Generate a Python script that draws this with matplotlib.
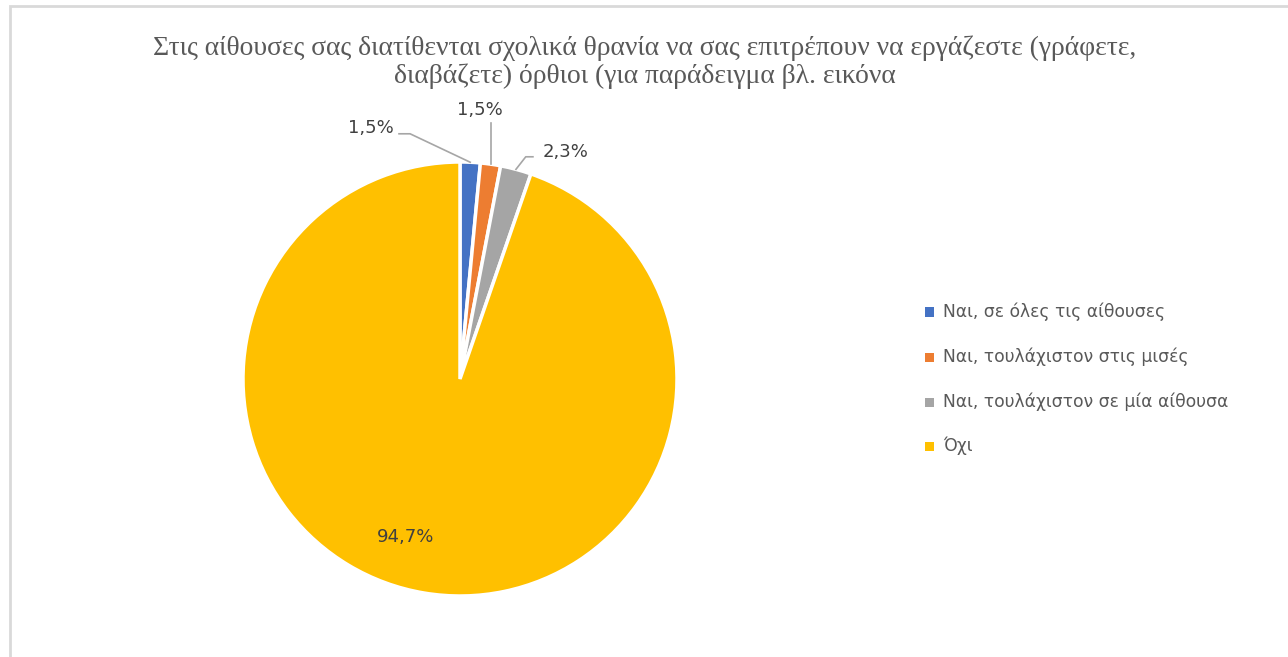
import numpy as np
import matplotlib
matplotlib.use("Agg")
import matplotlib.pyplot as plt
from matplotlib.patches import Rectangle

title = ("Στις αίθουσες σας διατίθενται σχολικά θρανία να σας επιτρέπουν να εργάζεστε (γράφετε,\n"
         "διαβάζετε) όρθιοι (για παράδειγμα βλ. εικόνα")
categories = ["Ναι, σε όλες τις αίθουσες",
              "Ναι, τουλάχιστον στις μισές",
              "Ναι, τουλάχιστον σε μία αίθουσα",
              "Όχι"]
values = [1.5, 1.5, 2.3, 94.7]
labels = ["1,5%", "1,5%", "2,3%", "94,7%"]
colors = ["#4472C4", "#ED7D31", "#A5A5A5", "#FFC000"]

W, H = 1288, 657
fig = plt.figure(figsize=(W / 100, H / 100), dpi=100)

# chart frame (light grey border, runs off the right/bottom edge)
fig.patches.append(Rectangle((10 / W, -0.05), 1.2, (H - 6) / H + 0.05,
                             transform=fig.transFigure, fill=False,
                             edgecolor="#D9D9D9", linewidth=2))

cx, cy, r = 460, 379, 217
ax = fig.add_axes([(cx - r) / W, (H - cy - r) / H, 2 * r / W, 2 * r / H])

wedges, _ = ax.pie(values, colors=colors, startangle=90, counterclock=False,
                   radius=1.0, wedgeprops=dict(edgecolor="white", linewidth=2.5))
ax.set_xlim(-1, 1)
ax.set_ylim(-1, 1)
ax.set_aspect("equal")
ax.axis("off")

# label placement (data units of the pie axes)
label_pos = [(-0.412, 1.157), (0.092, 1.24), (0.488, 1.046), (-0.253, -0.728)]
leader_mid = [[(-0.230, 1.130), (-0.281, 1.130)],
              [(0.143, 1.181)],
              [(0.303, 1.024), (0.336, 1.024)],
              None]
for w, lab, pos, mid in zip(wedges, labels, label_pos, leader_mid):
    ang = np.deg2rad((w.theta1 + w.theta2) / 2)
    if mid is not None:
        sx, sy = 1.0 * np.cos(ang), 1.0 * np.sin(ang)
        if len(mid) == 1:
            sx = mid[0][0]
            sy = np.sqrt(1 - sx ** 2)
        pts = [(sx, sy)] + mid
        ax.plot([p[0] for p in pts], [p[1] for p in pts], color="#A6A6A6",
                linewidth=1.2, clip_on=False)
    ax.text(pos[0], pos[1], lab, ha="center", va="center", fontsize=13,
            color="#404040", family="DejaVu Sans", clip_on=False)

fig.text(645 / W, 1 - 62 / H, title, ha="center", va="center",
         fontsize=19.9, color="#595959", family="Liberation Serif",
         linespacing=1.15)

# legend
leg_y = [312, 357, 402, 446]
for name, col, y in zip(categories, colors, leg_y):
    fig.patches.append(Rectangle((925 / W, 1 - (y + 4.5) / H), 9 / W, 9 / H,
                                 transform=fig.transFigure, facecolor=col,
                                 edgecolor="none"))
    fig.text(943 / W, 1 - y / H, name, ha="left", va="center", fontsize=12.3,
             color="#595959", family="DejaVu Sans")

fig.savefig("out.png", dpi=100)
